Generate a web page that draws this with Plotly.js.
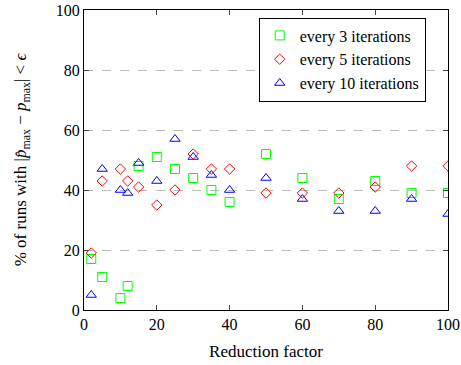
<!DOCTYPE html>
<html>
<head>
<meta charset="utf-8">
<script src="https://cdn.plot.ly/plotly-3.0.1.min.js"></script>
<style>body{margin:0;background:#fff}#chart{width:461px;height:365px}</style>
</head>
<body>
<div id="chart"></div>
<script>
const reductionFactor = [2, 5, 10, 12, 15, 20, 25, 30, 35, 40, 50, 60, 70, 80, 90, 100];
const every3 = [17, 11, 4, 8, 48, 51, 47, 44, 40, 36, 52, 44, 37, 43, 39, 39];
const every5 = [19, 43, 47, 43, 41, 35, 40, 52, 47, 47, 39, 39, 39, 41, 48, 48];
const every10 = [5, 47, 40, 39, 49, 43, 57, 51, 45, 40, 44, 37, 33, 33, 37, 32];
const seriesNames = ['every 3 iterations', 'every 5 iterations', 'every 10 iterations'];
const tickVals = [0, 20, 40, 60, 80, 100];

const fam = '"Liberation Serif", "DejaVu Serif", "Liberation Sans", sans-serif';
const tickFont = {family: fam, size: 16, color: '#000'};
const titleFont = {family: fam, size: 17, color: '#000'};
const legendFont = {family: fam, size: 16, color: '#000'};

const traces = [
  {x: reductionFactor, y: every3, name: seriesNames[0], mode: 'markers', type: 'scatter',
   marker: {symbol: 'square-open', size: 9, color: '#00ff00', line: {width: 1}}},
  {x: reductionFactor, y: every5, name: seriesNames[1], mode: 'markers', type: 'scatter',
   marker: {symbol: 'diamond-open', size: 8, color: '#ff0000', line: {width: 1}}},
  {x: reductionFactor, y: every10, name: seriesNames[2], mode: 'markers', type: 'scatter',
   marker: {symbol: 'triangle-up-open', size: 9, color: '#0000ff', line: {width: 1}}}
];

const axisCommon = {
  showline: true, linecolor: '#000', linewidth: 1, mirror: 'ticks',
  ticks: 'inside', ticklen: 5, tickcolor: '#444', tickwidth: 1,
  zeroline: false, tickfont: tickFont, tickvals: tickVals, ticktext: tickVals.map(String)
};

const layout = {
  width: 461, height: 365,
  margin: {l: 84, r: 13, t: 10, b: 55},
  paper_bgcolor: '#fff', plot_bgcolor: '#fff',
  font: tickFont,
  showlegend: true,
  legend: {x: 0.48, y: 0.975, xanchor: 'left', yanchor: 'top',
           bordercolor: '#000', borderwidth: 1, bgcolor: '#fff',
           font: legendFont, tracegroupgap: 0, itemwidth: 30},
  xaxis: Object.assign({}, axisCommon, {range: [0, 100], showgrid: false, ticklabeloverflow: 'allow',
    title: {text: 'Reduction factor', font: titleFont, standoff: 12}}),
  yaxis: Object.assign({}, axisCommon, {range: [0, 100], showgrid: true,
    gridcolor: '#bbb', griddash: 'dash', gridwidth: 1,
    title: {text: '% of runs with |<i>p\u0302</i><sub>max</sub> \u2212 <i>p</i><sub>max</sub>| < <i>\u03f5</i>', font: titleFont, standoff: 24}})
};

Plotly.newPlot('chart', traces, layout, {displayModeBar: false, staticPlot: true});
</script>
</body>
</html>
